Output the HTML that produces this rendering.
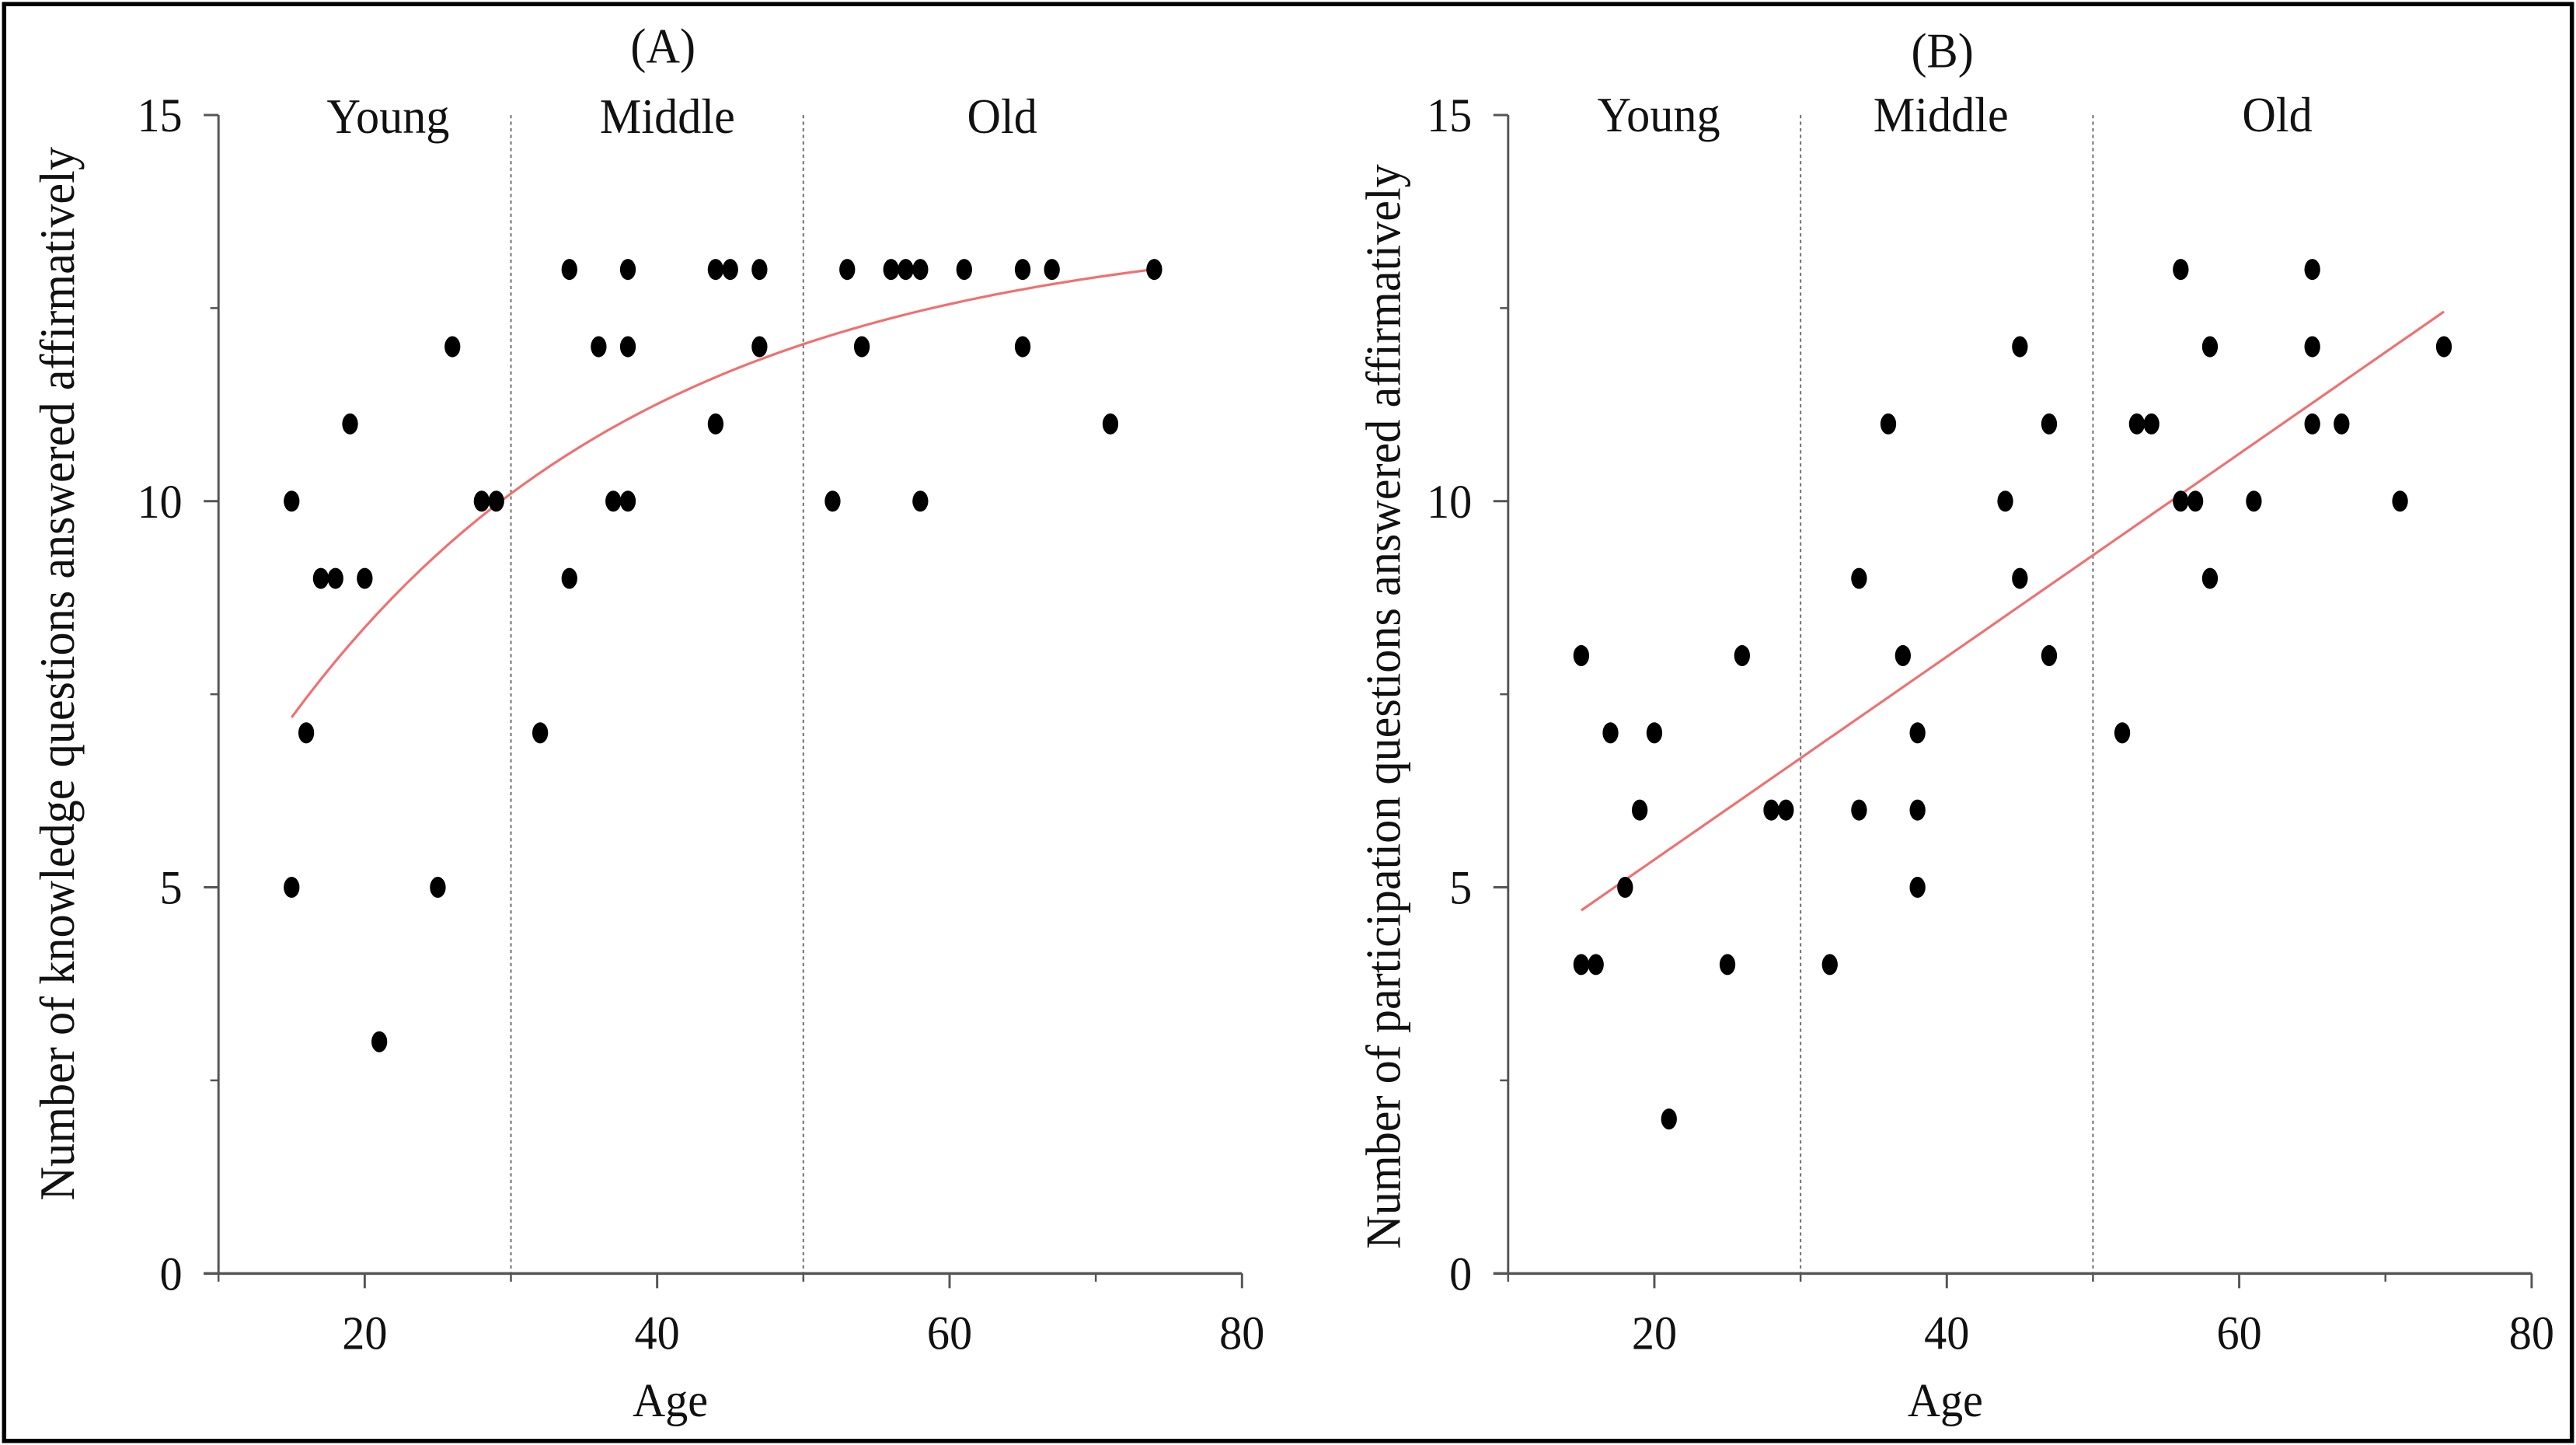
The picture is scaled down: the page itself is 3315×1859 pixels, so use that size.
<!DOCTYPE html>
<html><head><meta charset="utf-8"><style>
html,body{margin:0;padding:0;background:#fff;}
svg{display:block;}
text{font-family:"Liberation Serif",serif;fill:#111;}
</style></head><body>
<svg id="chart" width="3315" height="1859" viewBox="0 0 1568 879.4" preserveAspectRatio="none" xmlns="http://www.w3.org/2000/svg">
<rect x="2.5" y="2.5" width="1563" height="874.4" fill="#fff" stroke="#000" stroke-width="2.6"/>
</svg>
<script>
// Panel A data
const agesA=[15,15,16,17,18,19,20,21,25,26,28,29,32,34,34,36,37,38,38,38,44,45,44,47,47,52,53,54,56,57,58,58,61,65,65,67,71,74];
const valsA=[10,5,7,9,9,11,9,3,5,12,10,10,7,13,9,12,10,13,12,10,13,13,11,13,12,10,13,12,13,13,13,10,13,13,12,13,11,13];
// Panel B data
const agesB=[15,15,16,17,18,19,20,21,25,26,28,29,32,34,34,36,37,38,38,38,44,45,45,47,47,52,53,54,56,56,57,58,58,61,65,65,65,67,71,74];
const valsB=[8,4,4,7,5,6,7,2,4,8,6,6,4,9,6,11,8,7,6,5,10,12,9,11,8,7,11,11,13,10,10,12,9,10,13,12,11,11,10,12];
// Fit parameters: A exponential y=a-b*exp(-c*x), B linear y=m*x+k
const fitA=[13.6,6.4*Math.exp(0.0402*15),0.0402];
const fitB=[0.1314,2.73];
const fitRange=[15,74];
const xTicks=[20,40,60,80];
const xMinor=[10,30,50,70];
const yTicks=[0,5,10,15];
const groups=["Young","Middle","Old"];
const groupBounds=[30,50];

const NS="http://www.w3.org/2000/svg";
const svg=document.getElementById('chart');
function mk(tag,attrs,parent){const e=document.createElementNS(NS,tag);for(const k in attrs)e.setAttribute(k,attrs[k]);(parent||svg).appendChild(e);return e;}
function txt(s,x,y,size,anchor,parent,rot){
  const g=mk('g',{transform:`translate(${x},${y})`+(rot?` rotate(${rot})`:'')+` scale(0.95,1)`},parent);
  const t=mk('text',{x:0,y:0,'font-size':size,'text-anchor':anchor||'middle'},g);
  t.textContent=s;return t;}

function panel(p){
  const g=mk('g',{});
  
  
  const x0=p.x0;
  const X=a=>x0+(a-10)*8.9;
  const Y=v=>775-v*47;
  groupBounds.forEach(b=>{
    const l=mk('line',{x1:X(b),x2:X(b),y1:70,y2:775,stroke:'#777','stroke-width':1,'stroke-dasharray':'2,2'},g);
    
    
  });
  const ya=mk('line',{x1:X(10),x2:X(10),y1:70,y2:775,stroke:'#555','stroke-width':1.4},g);
  
  
  const xa=mk('line',{x1:X(10)-9,x2:X(80),y1:775,y2:775,stroke:'#555','stroke-width':1.6},g);
  
  
  yTicks.forEach(v=>{
    mk('line',{x1:X(10)-9,x2:X(10),y1:Y(v),y2:Y(v),stroke:'#555','stroke-width':1.4},g);
    const t=txt(String(v),X(10)-22,Y(v)+10,29,'end',g);
    
    
  });
  [2.5,7.5,12.5].forEach(v=>mk('line',{x1:X(10)-5,x2:X(10),y1:Y(v),y2:Y(v),stroke:'#555','stroke-width':1.2},g));
  xTicks.forEach(a=>{
    mk('line',{x1:X(a),x2:X(a),y1:775,y2:784,stroke:'#555','stroke-width':1.4},g);
    const t=txt(String(a),X(a),821,29,'middle',g);
    
    
  });
  xMinor.forEach(a=>mk('line',{x1:X(a),x2:X(a),y1:775,y2:780,stroke:'#555','stroke-width':1.2},g));
  let t=txt(p.title,X(p.titleAt),p.titleY,30,'middle',g);
  
  
  p.groupX.forEach((a,i)=>{
    const gl=txt(groups[i],X(a),p.groupY,30,'middle',g);
    
    
  });
  t=txt('Age',X(p.ageAt),862,29,'middle',g);
  
  
  t=txt(p.ytitle,p.ytx,p.yty,30,'middle',g,-90);
  
  
  let d='';
  for(let i=0;i<=60;i++){const a=fitRange[0]+(fitRange[1]-fitRange[0])*i/60;d+=(i?'L':'M')+X(a).toFixed(2)+','+Y(p.fit(a)).toFixed(2);}
  const fl=mk('path',{d:d,fill:'none',stroke:'#f07070','stroke-width':1.5},g);
  
  
  p.ages.forEach((a,i)=>{
    const c=mk('ellipse',{cx:X(a),cy:Y(p.vals[i]),rx:4.8,ry:6.4,fill:'#000'},g);
    
    
  });
}
panel({name:'panel-a',x0:133,ages:agesA,vals:valsA,fit:a=>fitA[0]-fitA[1]*Math.exp(-fitA[2]*a),
  title:'(A)',titleAt:40.4,titleY:38,groupX:[21.6,40.7,63.6],groupY:81,ageAt:40.9,
  ytitle:'Number of knowledge questions answered affirmatively',ytx:45,yty:410});
panel({name:'panel-b',x0:918,ages:agesB,vals:valsB,fit:a=>fitB[0]*a+fitB[1],
  title:'(B)',titleAt:39.7,titleY:41,groupX:[20.3,39.6,62.6],groupY:80,ageAt:39.9,
  ytitle:'Number of participation questions answered affirmatively',ytx:852,yty:430});
</script>
</body></html>
